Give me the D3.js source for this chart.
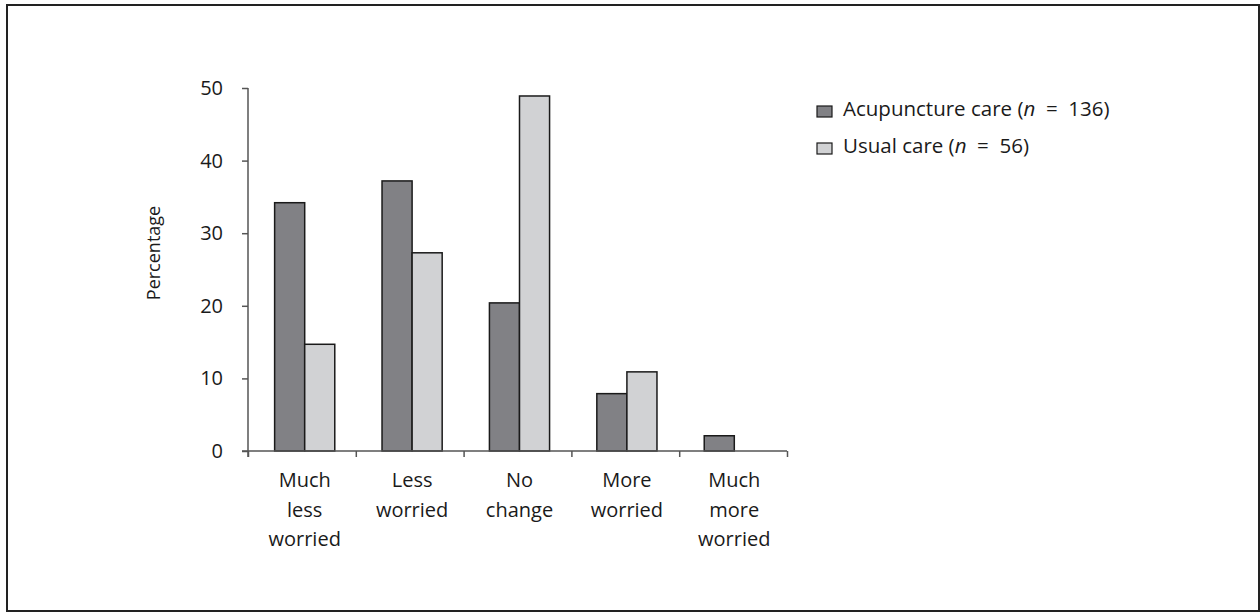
<!DOCTYPE html>
<html>
<head>
<meta charset="utf-8">
<script src="https://cdn.jsdelivr.net/npm/d3@7/dist/d3.min.js"></script>
<style>
  html, body { margin: 0; padding: 0; background: #fff; }
  svg { display: block; font-family: "Open Sans", Lato, sans-serif; }
</style>
</head>
<body>
<svg id="chart" width="1260" height="612"></svg>
<script>
const categories = [["Much", "less", "worried"], ["Less", "worried"], ["No", "change"], ["More", "worried"], ["Much", "more", "worried"]];
const seriesNames = ["Acupuncture care", "Usual care"];
const seriesN = [136, 56];
const acupuncture = [34.2, 37.2, 20.4, 7.9, 2.1];
const usual = [14.7, 27.3, 48.9, 10.9, 0];
const yTicks = [0, 10, 20, 30, 40, 50];
const colors = ["#818185", "#d1d2d4"];

const svg = d3.select("#chart");
const FONT = "'Open Sans', Lato, sans-serif";

// outer border
svg.append("rect")
  .attr("x", 7).attr("y", 5).attr("width", 1252).attr("height", 606)
  .attr("fill", "none").attr("stroke", "#222").attr("stroke-width", 2);

const pLeft = 248, pRight = 787, pTop = 88, pBottom = 451;
const keys = categories.map((c, i) => "c" + i);

const x0 = d3.scaleBand().domain(keys).range([pLeft + 3, pRight + 1]).paddingInner(0.44).paddingOuter(0.22);
const x1 = d3.scaleBand().domain([0, 1]).range([0, x0.bandwidth()]);
const y = d3.scaleLinear().domain([0, 50]).range([pBottom, pTop]);
const xb = d3.scaleLinear().domain([0, categories.length]).range([pLeft, pRight]);

// bars
const data = keys.map((k, i) => ({ key: k, vals: [acupuncture[i], usual[i]] }));
svg.append("g").selectAll("g.grp").data(data).join("g")
  .attr("class", "grp")
  .attr("transform", d => `translate(${x0(d.key)},0)`)
  .selectAll("rect").data(d => d.vals.map((v, j) => ({ v, j })).filter(e => e.v > 0))
  .join("rect")
  .attr("x", e => x1(e.j))
  .attr("width", x1.bandwidth())
  .attr("y", e => y(e.v))
  .attr("height", e => y(0) - y(e.v))
  .attr("fill", e => colors[e.j])
  .attr("stroke", "#1a1a1a")
  .attr("stroke-width", 1.5);

// y axis
const yAxis = svg.append("g")
  .attr("transform", `translate(${pLeft},0)`)
  .call(d3.axisLeft(y).tickValues(yTicks).tickSize(6).tickPadding(19).tickSizeOuter(0));
yAxis.select(".domain").remove();
yAxis.append("line").attr("x1", 0).attr("x2", 0).attr("y1", pTop).attr("y2", pBottom + 6)
  .attr("stroke", "#555").attr("stroke-width", 1.5);
yAxis.selectAll(".tick line").attr("stroke", "#555").attr("stroke-width", 1.5);
yAxis.selectAll(".tick text").attr("fill", "#1a1a1a").style("font-size", "20px")
  .style("font-family", FONT);

// x axis (boundary ticks)
const xAxis = svg.append("g")
  .attr("transform", `translate(0,${pBottom})`)
  .call(d3.axisBottom(xb).tickValues(d3.range(0, categories.length + 1)).tickFormat("").tickSize(6).tickSizeOuter(0));
xAxis.select(".domain").remove();
xAxis.append("line").attr("x1", pLeft - 6).attr("x2", pRight).attr("y1", 0).attr("y2", 0)
  .attr("stroke", "#555").attr("stroke-width", 1.5);
xAxis.selectAll(".tick line").attr("stroke", "#555").attr("stroke-width", 1.5);

// category labels
svg.append("g").selectAll("text").data(categories).join("text")
  .attr("x", (d, i) => x0(keys[i]) + x0.bandwidth() / 2)
  .attr("y", 487)
  .attr("text-anchor", "middle")
  .attr("fill", "#1a1a1a")
  .style("font-size", "20px")
  .selectAll("tspan").data(d => d).join("tspan")
  .attr("x", function() { return d3.select(this.parentNode).attr("x"); })
  .attr("dy", (d, i) => i === 0 ? 0 : 29.5)
  .text(d => d);

// y label
svg.append("text")
  .attr("transform", `translate(160,253) rotate(-90)`)
  .attr("text-anchor", "middle")
  .attr("fill", "#1a1a1a")
  .style("font-size", "18px")
  .text("Percentage");

// legend
const lg = svg.append("g");
const legY = [116, 153];
seriesNames.forEach((name, i) => {
  lg.append("rect")
    .attr("x", 817).attr("y", legY[i] - 10).attr("width", 15).attr("height", 11)
    .attr("fill", colors[i]).attr("stroke", "#1a1a1a").attr("stroke-width", 1.2);
  const t = lg.append("text").attr("x", 843).attr("y", legY[i])
    .attr("fill", "#1a1a1a").style("font-size", "20.5px");
  t.append("tspan").text(name + " (");
  t.append("tspan").style("font-style", "italic").text("n");
  t.append("tspan").attr("xml:space", "preserve").style("white-space", "pre").text("  =  " + seriesN[i] + ")");
});
</script>
</body>
</html>
